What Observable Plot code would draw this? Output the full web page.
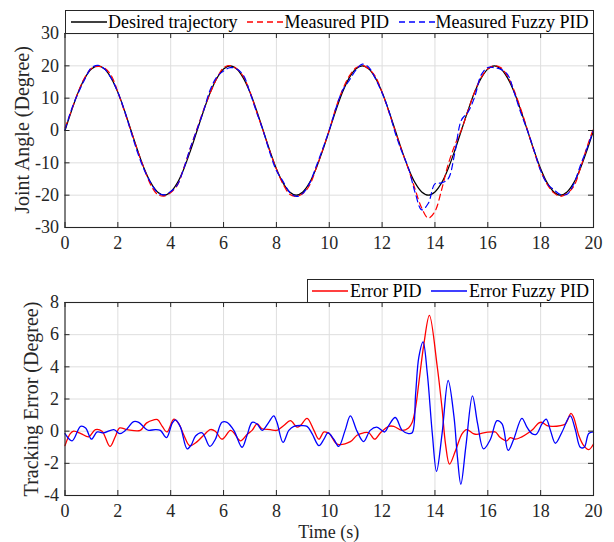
<!DOCTYPE html>
<html><head><meta charset="utf-8">
<script src="https://cdn.jsdelivr.net/npm/d3@7"></script>
<script src="https://cdn.jsdelivr.net/npm/@observablehq/plot@0.6"></script>
<style>
body{margin:0;background:#fff;}
#wrap{position:relative;width:614px;height:542px;overflow:hidden;font-family:"Liberation Serif","Times New Roman",serif;}
#wrap svg.plot{position:absolute;left:0;}
.legend{position:absolute;box-sizing:border-box;height:24px;border:1px solid #262626;background:#fff;font-size:18px;color:#000;}
.item{position:absolute;top:0;height:22px;line-height:22px;white-space:nowrap;}
.sample{position:absolute;top:6px;}
.ylab{position:absolute;white-space:nowrap;font-size:20px;color:#262626;transform:translate(-50%,-50%) rotate(-90deg);}
.xlab{position:absolute;white-space:nowrap;font-size:18px;color:#262626;transform:translate(-50%,-50%);}
</style></head>
<body><div id="wrap"></div>
<script>
// ---------- data ----------
const xTicks = [0,2,4,6,8,10,12,14,16,18,20];
const yTicksAngle = [-30,-20,-10,0,10,20,30];
const yTicksError = [-4,-2,0,2,4,6,8];

const time = [0,0.25,0.5,0.75,1,1.25,1.5,1.75,2,2.25,2.5,2.75,3,3.25,3.5,3.75,4,4.25,4.5,4.75,
  5,5.25,5.5,5.75,6,6.25,6.5,6.75,7,7.25,7.5,7.75,8,8.25,8.5,8.75,9,9.25,9.5,9.75,
  10,10.25,10.5,10.75,11,11.25,11.5,11.75,12,12.25,12.5,12.75,13,13.25,13.5,13.75,14,14.25,14.5,14.75,
  15,15.25,15.5,15.75,16,16.25,16.5,16.75,17,17.25,17.5,17.75,18,18.25,18.5,18.75,19,19.25,19.5,19.75,20];

const desired = [0,6.2,11.8,16.2,19.0,20,19.0,16.2,11.8,6.2,0,-6.2,-11.8,-16.2,-19.0,-20,-19.0,-16.2,-11.8,-6.2,
  0,6.2,11.8,16.2,19.0,20,19.0,16.2,11.8,6.2,0,-6.2,-11.8,-16.2,-19.0,-20,-19.0,-16.2,-11.8,-6.2,
  0,6.2,11.8,16.2,19.0,20,19.0,16.2,11.8,6.2,0,-6.2,-11.8,-16.2,-19.0,-20,-19.0,-16.2,-11.8,-6.2,
  0,6.2,11.8,16.2,19.0,20,19.0,16.2,11.8,6.2,0,-6.2,-11.8,-16.2,-19.0,-20,-19.0,-16.2,-11.8,-6.2,
  0];

const measuredPID = [0.8,6.3,11.9,16.4,19.2,19.85,19.3,17.0,11.9,5.9,
  -0.15,-6.3,-11.9,-16.9,-19.75,-20.3,-19.2,-16.9,-11.5,-5.3,
  0.6,6.5,11.7,16.2,19.4,20.1,19.1,16.7,11.9,5.8,
  -0.2,-6.35,-11.9,-16.55,-19.7,-20.35,-19.5,-17.0,-11.8,-6.0,
  0.1,6.95,12.55,16.75,19.3,20.1,19.05,16.65,11.8,5.85,
  -0.25,-6.35,-12.0,-18.2,-24.0,-27.1,-25.0,-18.4,-10.5,-4.6,
  0.2,6.1,11.9,16.4,19.05,20.0,19.4,16.7,12.3,6.6,
  0.2,-6.4,-12.4,-16.65,-19.3,-20.35,-19.4,-17.3,-11.8,-5.2,
  0.7];

const measuredFuzzy = [0.2,6.6,11.6,15.85,19.4,20.15,19.0,16.15,11.8,6.2,
  -0.5,-6.9,-12.2,-16.25,-19.15,-19.9,-18.9,-16.85,-11.6,-5.2,
  0.4,6.3,12.7,16.6,18.4,19.45,19.0,17.1,11.7,5.7,
  -0.1,-6.8,-12.4,-15.7,-19.1,-20.4,-19.45,-16.4,-11.2,-5.7,
  0.1,6.8,12.4,15.4,18.6,20.5,19.5,16.0,11.6,6.2,
  -0.85,-6.6,-11.7,-19.2,-24.55,-22.5,-16.5,-16.2,-14.95,-7.0,
  3.2,5.7,10.3,17.2,19.5,19.4,18.9,17.3,11.7,5.45,
  0.0,-6.1,-12.4,-16.5,-18.3,-19.8,-19.7,-16.6,-10.9,-5.6,
  0.1];

const errPidTime = [0,0.2,0.33,0.6,0.9,1.15,1.4,1.7,1.9,2.07,2.35,2.85,3.08,3.36,3.5,3.68,3.86,4.12,4.31,4.5,4.72,
  5.0,5.25,5.5,5.69,5.94,6.26,6.39,6.64,6.89,7.08,7.27,7.46,7.77,8.02,8.28,8.53,8.78,8.91,9.16,9.42,9.61,9.8,
  10.0,10.3,10.8,11.05,11.3,11.5,11.72,11.94,12.25,12.44,12.76,13.0,13.14,13.27,13.39,13.58,13.79,14.08,14.27,14.4,14.55,14.78,
  15.03,15.2,15.45,15.59,15.84,16.16,16.29,16.47,16.72,16.85,17.04,17.29,17.54,17.73,17.92,18.05,18.24,18.43,18.75,18.93,
  19.15,19.25,19.44,19.63,19.82,20];
const errPid = [-0.9,-0.15,0,-0.15,-0.35,0.1,0,-0.95,-0.35,0.2,0.1,0.05,0.5,0.7,0.72,0.3,-0.05,0.75,0.45,-0.25,-0.9,
  -0.65,-0.25,0.1,0.0,-0.5,0.05,-0.1,-0.6,-0.2,0.05,0.45,0.15,0.1,0.05,0.35,0.65,0.25,0.35,0.8,0.05,-0.5,-0.05,
  -0.15,-0.8,-0.65,-0.25,-0.1,-0.1,-0.5,-0.1,0.3,0.3,0.05,0.2,0.55,1.5,3,5.4,7.2,4.1,1.4,-0.8,-2.05,-1.2,
  -0.15,0.1,-0.15,-0.2,-0.1,-0.05,-0.05,-0.4,-0.6,-0.4,-0.5,-0.35,-0.1,0.15,0.5,0.55,0.35,0.3,0.35,0.45,
  1.1,0.85,-0.25,-0.9,-1.15,-0.8];

const errFuzzyTime = [0,0.27,0.59,0.78,1.0,1.22,1.47,1.85,2.07,2.29,2.6,2.79,3.05,3.17,3.42,3.61,3.84,4.06,4.18,4.37,4.62,4.78,4.94,
  5.19,5.48,5.69,5.94,6.13,6.39,6.7,6.89,7.08,7.27,7.46,7.71,7.9,8.02,8.25,8.47,8.66,8.97,9.16,9.35,9.61,9.8,9.95,
  10.17,10.36,10.6,10.8,11.05,11.3,11.55,11.8,12.1,12.25,12.5,12.76,13.0,13.14,13.27,13.39,13.55,13.71,13.9,14.06,14.27,14.5,14.72,14.85,14.98,
  15.17,15.42,15.61,15.84,16.1,16.35,16.54,16.77,16.98,17.29,17.48,17.67,17.83,18.05,18.21,18.37,18.56,18.81,19.12,19.31,19.5,19.65,19.82,20];
const errFuzzy = [-0.15,-0.6,0.3,0.2,-0.5,-0.05,-0.1,0.1,-0.15,0.05,0.6,0.55,0.15,0.05,0.1,0.05,-0.4,0.5,0.7,0.25,-1.1,-0.85,-0.3,
  -0.1,-0.95,-0.5,0.55,0.55,0.05,-1.0,-0.25,0.55,0.45,0.05,0.55,0.95,0.55,-0.7,0.05,0.3,0.35,0.3,-0.15,-0.9,-0.5,-0.1,
  -0.5,-0.95,0.05,0.95,0.0,-0.65,0.05,0.25,-0.05,0.35,0.85,0.05,-0.15,-0.1,2.35,4.6,5.55,3.6,-0.15,-2.5,-0.15,3.15,0.9,-1.6,-3.3,
  -0.95,2.2,0.5,-1.1,-0.5,0.65,0.45,-1.2,-0.5,0.8,0.25,-0.15,-0.2,0.45,0.75,0.05,-0.75,-0.05,0.95,0.1,-1.0,-1.0,-0.15,-0.05];

// ---------- drawing ----------
const FONT = '"Liberation Serif","Times New Roman",serif';
const AX = "#262626", GRID = "#dedede";
const fmt = d => String(d);

function panel({height, top, mTop, mBottom, yDomain, yTicks, lines}) {
  const mLeft = 64.5, mRight = 21;
  const pw = 614 - mLeft - mRight, ph = height - mTop - mBottom;
  const svg = Plot.plot({
    width: 614, height, marginLeft: mLeft, marginRight: mRight, marginTop: mTop, marginBottom: mBottom,
    x: {domain: [0, 20]}, y: {domain: yDomain},
    style: {fontFamily: FONT, fontSize: "18px", color: AX, background: "transparent", overflow: "visible"},
    marks: [
      Plot.gridX(xTicks, {stroke: GRID, strokeOpacity: 1, strokeWidth: 1}),
      Plot.gridY(yTicks, {stroke: GRID, strokeOpacity: 1, strokeWidth: 1}),
      ...lines,
      Plot.frame({stroke: AX, strokeWidth: 1.1}),
      Plot.tickX(xTicks, {x: d => d, insetTop: ph - 5, stroke: AX}),
      Plot.tickX(xTicks, {x: d => d, insetBottom: ph - 5, stroke: AX}),
      Plot.tickY(yTicks, {y: d => d, insetRight: pw - 5, stroke: AX}),
      Plot.tickY(yTicks, {y: d => d, insetLeft: pw - 5, stroke: AX}),
      Plot.axisX(xTicks, {tickSize: 0, tickPadding: 9, tickFormat: fmt, label: null, fill: AX}),
      Plot.axisY(yTicks, {tickSize: 0, tickPadding: 6, tickFormat: fmt, label: null, fill: AX})
    ]
  });
  svg.classList.add("plot");
  svg.style.top = top + "px";
  return svg;
}

const wrap = document.getElementById("wrap");

wrap.appendChild(panel({
  height: 260, top: 0, mTop: 33, mBottom: 33, yDomain: [-30, 30], yTicks: yTicksAngle,
  lines: [
    Plot.line(time, {x: time, y: desired, stroke: "#000", strokeWidth: 1.2, curve: "catmull-rom"}),
    Plot.line(time, {x: time, y: measuredPID, stroke: "#ff0000", strokeWidth: 1.2, strokeDasharray: "6,4", curve: "catmull-rom"}),
    Plot.line(time, {x: time, y: measuredFuzzy, stroke: "#0000ff", strokeWidth: 1.2, strokeDasharray: "6,4", curve: "catmull-rom"})
  ]
}));

wrap.appendChild(panel({
  height: 282, top: 260, mTop: 42, mBottom: 47, yDomain: [-4, 8], yTicks: yTicksError,
  lines: [
    Plot.line(errPidTime, {x: errPidTime, y: errPid, stroke: "#ff0000", strokeWidth: 1.3, curve: "catmull-rom"}),
    Plot.line(errFuzzyTime, {x: errFuzzyTime, y: errFuzzy, stroke: "#0000ff", strokeWidth: 1.3, curve: "catmull-rom"})
  ]
}));

// ---------- legends and labels ----------
function sample(color, dashed) {
  return `<svg class="sample" width="36" height="10"><line x1="0" y1="5" x2="36" y2="5" stroke="${color}" stroke-width="1.3"${dashed ? ' stroke-dasharray="6,4"' : ''}/></svg>`;
}
function legend(left, top, width, items) {
  const d = document.createElement("div");
  d.className = "legend";
  d.style.left = left + "px"; d.style.top = top + "px"; d.style.width = width + "px";
  d.innerHTML = items.map(it =>
    `<span class="item" style="left:${it.s}px;width:36px">${sample(it.color, it.dashed)}</span>` +
    `<span class="item" style="left:${it.t}px">${it.label}</span>`).join("");
  wrap.appendChild(d);
}
legend(64.5, 10, 529, [
  {s: 5, t: 42.5, color: "#000", dashed: false, label: "Desired trajectory"},
  {s: 181, t: 219, color: "#ff0000", dashed: true, label: "Measured PID"},
  {s: 333, t: 370, color: "#0000ff", dashed: true, label: "Measured Fuzzy PID"}
]);
legend(307, 279, 287, [
  {s: 3.5, t: 42, color: "#ff0000", dashed: false, label: "Error PID"},
  {s: 123, t: 161, color: "#0000ff", dashed: false, label: "Error Fuzzy PID"}
]);

function label(cls, text, x, y) {
  const d = document.createElement("div");
  d.className = cls; d.textContent = text;
  d.style.left = x + "px"; d.style.top = y + "px";
  wrap.appendChild(d);
}
label("ylab", "Joint Angle (Degree)", 21.5, 130);
label("ylab", "Tracking Error (Degree)", 31, 398.5);
label("xlab", "Time (s)", 328.75, 531.5);
</script>
</body></html>
